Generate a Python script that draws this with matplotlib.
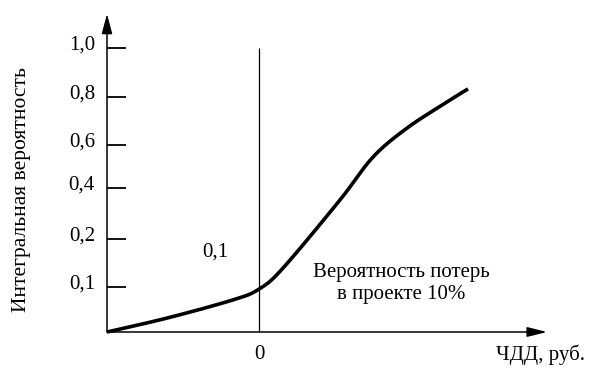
import matplotlib.pyplot as plt
import numpy as np

plt.rcParams['font.family'] = ['Liberation Serif', 'DejaVu Serif']

# curve (x: NPV in relative units, y: axis position)
npv = [-1.52, -0.92, -0.26, 0.0, 0.24, 0.81, 1.14, 1.48, 1.88, 2.09]
prob = [0.0, 0.049, 0.113, 0.151, 0.225, 0.465, 0.616, 0.718, 0.810, 0.856]

# schematic (non-linear) probability axis
tick_labels = ['0,1', '0,2', '0,4', '0,6', '0,8', '1,0']
tick_pos = [0.158, 0.327, 0.507, 0.658, 0.827, 1.0]

x0 = -1.52   # where the axes cross
x_end = 2.88
y_end = 1.12


def catmull_rom(px, py, n=40):
    p = np.column_stack([px, py])
    p = np.vstack([p[0], p, p[-1]])
    out = []
    for i in range(1, len(p) - 2):
        p0, p1, p2, p3 = p[i - 1], p[i], p[i + 1], p[i + 2]
        for t in np.linspace(0, 1, n, endpoint=False):
            t2, t3 = t * t, t * t * t
            out.append(0.5 * (2 * p1 + (-p0 + p2) * t + (2 * p0 - 5 * p1 + 4 * p2 - p3) * t2
                              + (-p0 + 3 * p1 - 3 * p2 + p3) * t3))
    out.append(p[-2])
    out = np.array(out)
    return out[:, 0], out[:, 1]


fig = plt.figure(figsize=(5.91, 3.73), dpi=100)
ax = fig.add_axes([0, 0, 1, 1])
ax.set_xlim(-2.59, 3.32)
ax.set_ylim(-0.1444, 1.169)
ax.axis('off')

xs, ys = catmull_rom(npv, prob)
ax.plot(xs, ys, color='black', lw=2.6, solid_capstyle='butt')

# axes with arrows
ax.annotate('', xy=(x0, y_end), xytext=(x0, 0),
            arrowprops=dict(arrowstyle='-|>,head_length=1.2,head_width=0.32',
                            color='black', lw=1.1, shrinkA=0, shrinkB=0))
ax.annotate('', xy=(x_end, 0), xytext=(x0, 0),
            arrowprops=dict(arrowstyle='-|>,head_length=1.2,head_width=0.3',
                            color='black', lw=1.1, shrinkA=0, shrinkB=0))

# zero line
ax.vlines(0, 0, 1.0, color='black', lw=0.9)

# ticks on y
ax.hlines(tick_pos, x0, x0 + 0.19, color='black', lw=1.3)
for p, lab in zip(tick_pos, tick_labels):
    ax.text(x0 - 0.12, p + 0.012, lab, ha='right', va='center', fontsize=15)

ax.text(0, -0.08, '0', ha='center', va='center', fontsize=15)
ax.text(2.81, -0.08, 'ЧДД, руб.', ha='center', va='center', fontsize=15)
ax.text(-0.44, 0.28, '0,1', ha='center', va='center', fontsize=15)
ax.text(1.42, 0.172, 'Вероятность потерь\nв проекте 10%', ha='center', va='center',
        fontsize=15, linespacing=1.2)
ax.text(-2.37, 0.5, 'Интегральная вероятность', rotation=90, ha='center', va='center',
        fontsize=15.5)

fig.savefig('out.png', dpi=100, facecolor='white')
